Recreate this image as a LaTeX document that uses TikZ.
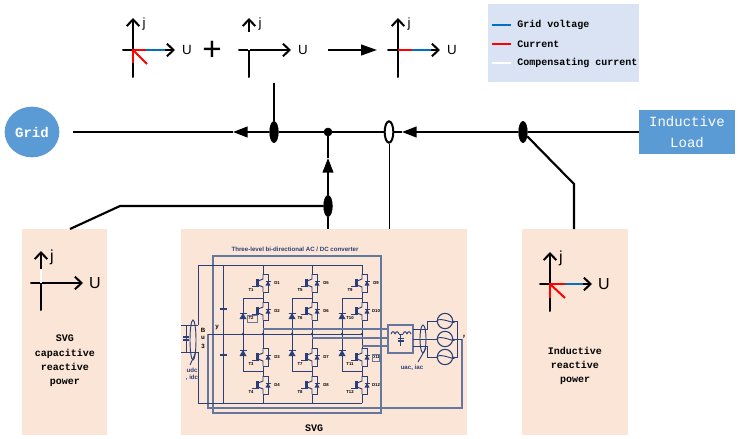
\documentclass[tikz,border=0pt]{standalone}
\usepackage{fontspec}
\setmainfont{Liberation Sans}
\newfontfamily\pixelfont{Liberation Mono}
\usepackage{xcolor}
\usepackage{tikz}
\usetikzlibrary{arrows.meta, positioning, calc, shapes.geometric}
\definecolor{gridblue}{HTML}{5B9BD5}
\definecolor{panelpeach}{HTML}{FBE5D6}
\definecolor{legendblue}{HTML}{DAE3F3}
\definecolor{voltblue}{HTML}{0070C0}
\definecolor{circnavy}{HTML}{2A3F78}
\definecolor{circgray}{HTML}{66779F}
\tikzset{
	busline/.style={draw=black, line width=1.6pt},
	busarr/.style={busline, -{Triangle[length=11pt, width=8pt]}},
	tapmark/.style={draw=black, fill=black, ellipse, inner sep=0pt, minimum width=6.5pt, minimum height=16pt},
	panelbox/.style={fill=panelpeach, draw=none, inner sep=0pt},
	sourcebox/.style={fill=gridblue, draw=none, text=white, align=center, inner sep=0pt, font=\pixelfont\fontsize{10.5}{16}\selectfont},
	axisline/.style={draw=black, line width=1.5pt, line cap=round},
	axisarr/.style={axisline, -{Straight Barb[length=5pt, width=9.5pt, line width=1.5pt]}},
	axistext/.style={inner sep=0pt, font=\fontsize{#1}{#1}\selectfont},
	axistext/.default=10,
	paneltext/.style={align=center, inner sep=0pt, font=\pixelfont\bfseries\fontsize{7.5}{10.8}\selectfont},
	legendtext/.style={anchor=west, inner sep=0pt, font=\pixelfont\bfseries\fontsize{7.5}{9}\selectfont},
	wirea/.style={draw=circnavy, line width=0.7pt},
	wireb/.style={draw=circgray, line width=1.1pt},
	tinytext/.style={inner sep=0pt, text=black, font=\bfseries\fontsize{3.2}{3.5}\selectfont},
	circtext/.style={inner sep=0pt, text=circnavy, font=\bfseries\fontsize{4.6}{5}\selectfont},
}
% axes of one phasor picture: name, x, y, size of the letters
\newcommand{\phasoraxes}[4]{
	\draw[axisarr] (#2-10,#3) -- (#2+42,#3);
	\draw[axisarr] (#2,#3+27) -- (#2,#3-32);
	\node[axistext=#4] (#1j) at (#2+11,#3-26) {j};
	\node[axistext=#4] (#1u) at (#2+54,#3) {U};
}
% one switch with its diode
\newcommand{\igbtcell}[4]{
	\begin{scope}[shift={(#1,#2)}]
		\draw[wirea] (0,-9) -- (0,-4) -- (-5,-2) (-5,2) -- (0,4) -- (0,9);
		\draw[wirea] (0,-9) -- (5,-9) -- (5,9) -- (0,9);
		\draw[wirea, line width=1pt] (-5,-4) -- (-5,4);
		\draw[wirea] (-6.5,-4) -- (-6.5,3) -- (-11,3);
		\fill[circnavy] (2.5,2.5) -- (7.5,2.5) -- (5,-2) -- cycle;
		\draw[wirea] (2.5,-2) -- (7.5,-2);
		\node[tinytext] (d#3) at (14,0) {#3};
		\node[tinytext] (t#3) at (-12,7) {#4};
	\end{scope}
}
\newcommand{\clampdiode}[2]{
	\fill[circnavy] (#1-3.5,#2+3) -- (#1+3.5,#2+3) -- (#1,#2-3) -- cycle;
	\draw[wirea] (#1-3.5,#2-3) -- (#1+3.5,#2-3);
}
\begin{document}
\begin{tikzpicture}[x=0.75pt, y=-0.75pt, >=Stealth]
	\useasboundingbox (0,0) rectangle (740,439);
	% panels first
	\fill[panelpeach] (22,229) rectangle (107,435);
	\fill[panelpeach] (181,229) rectangle (467,435);
	\fill[panelpeach] (522,229) rectangle (628,435);
	\fill[legendblue] (488,4) rectangle (639,82);
	% legend
	\draw[voltblue, line width=1.5pt] (492,25) -- (511,25);
	\draw[red, line width=1.5pt] (492,44) -- (511,44);
	\draw[white, line width=1.5pt] (492,63) -- (511,63);
	\node[legendtext] (legvolt) at (517,25) {Grid voltage};
	\node[legendtext] (legcurr) at (517,44) {Current};
	\node[legendtext] (legcomp) at (517,63) {Compensating current};
	% grid and load
	\node[sourcebox, ellipse, minimum width=41pt, minimum height=38pt, font=\pixelfont\bfseries\fontsize{10.5}{12}\selectfont] (grid) at (32,132) {Grid};
	\node[sourcebox, minimum width=72pt, minimum height=33pt] (load) at (687,132) {Inductive\\Load};
	% tap points on the bus
	\node[tapmark] (taptop) at (274,132) {};
	\node[draw=black, fill=black, circle, inner sep=0pt, minimum size=6pt] (busdot) at (328,132) {};
	\node[tapmark, fill=white, line width=1.5pt] (ctring) at (389,132) {};
	\node[tapmark] (tapload) at (523,132) {};
	\node[tapmark] (tapsvg) at (328,206) {};
	\coordinate (svgtop) at (328,229);
	\coordinate (arrbus) at (233,132);
	\coordinate (arrct) at (402,132);
	\coordinate (arrsvg) at (328,158);
	\coordinate (panelbend) at (120,206);
	\coordinate (panelend) at (70,229);
	\coordinate (loadbend) at (574,184);
	\coordinate (loadend) at (574,229);
	\coordinate (topend) at (274,83);
	\coordinate (ctend) at (389,229);
	% bus
	\draw[busline] (load) -- (tapload);
	\draw[busarr] (tapload) -- (arrct);
	\draw[busline] (arrct) -- (ctring);
	\draw[busline] (ctring) -- (busdot);
	\draw[busline] (busdot) -- (taptop);
	\draw[busarr] (taptop) -- (arrbus);
	\draw[busline, shorten >=9.75pt] (arrbus) -- (grid);
	\draw[busline] (svgtop) -- (tapsvg);
	\draw[busarr] (tapsvg) -- (arrsvg);
	\draw[busline] (arrsvg) -- (busdot);
	\draw[busline] (tapsvg) -- (panelbend) -- (panelend);
	\draw[busline] (tapload) -- (loadbend) -- (loadend);
	\draw[busline] (taptop) -- (topend);
	\draw[black, line width=0.6pt] (ctring) -- (ctend);
	% phasors
	\phasoraxes{pa}{133}{50}{10}
	\draw[voltblue, line width=1.5pt] (146,50) -- (165,50);
	\draw[red, line width=1.5pt] (133,63) -- (133,50) -- (146,50);
	\draw[red, line width=1.5pt] (133,50) -- (147,64);
	\node[axistext=25] (plus) at (212,51) {+};
	\phasoraxes{pb}{249}{50}{10}
	\draw[gray!60, line width=1.7pt] (249,32) -- (249,50);
	\draw[white, line width=1pt] (249,32) -- (249,50);
	\coordinate (sumfrom) at (328,50);
	\coordinate (sumto) at (377,50);
	\draw[busline, -{Triangle[length=12pt, width=8pt]}] (sumfrom) -- (sumto);
	\phasoraxes{pc}{398}{50}{10}
	\draw[red, line width=1.5pt] (398,50) -- (412,50);
	\draw[voltblue, line width=1.5pt] (412,50) -- (431,50);
	\phasoraxes{pd}{41}{283}{12}
	\draw[white, line width=1.5pt] (41,269) -- (41,283);
	\node[paneltext] (svgtext) at (65,361) {SVG\\capacitive\\reactive\\power};
	\phasoraxes{pe}{550}{284}{12}
	\draw[voltblue, line width=1.5pt] (565,284) -- (583,284);
	\draw[red, line width=1.5pt] (550,298) -- (550,284) -- (565,284);
	\draw[red, line width=1.5pt] (550,284) -- (565,298);
	\node[paneltext] (indtext) at (575,366) {Inductive\\reactive\\power};
	% converter
	\node[circtext] (convtext) at (295,249) {Three-level bi-directional AC / DC converter};
	\draw[wireb] (213,413) rectangle (381,256);
	\draw[wireb] (208,334) -- (208,408) -- (462,408) -- (462,339);
	\draw[wirea] (198,325) -- (198,265) -- (362,265);
	\draw[wirea] (198,352) -- (198,403) -- (362,403);
	\draw[wirea] (223,265) -- (223,403);
	\draw[circnavy, line width=1.6pt] (219.5,309) -- (226.5,309);
	\draw[circnavy, line width=1.6pt] (219.5,355) -- (226.5,355);
	\draw[wirea] (208,334) -- (362,334);
	\foreach \legx in {263,312,362}{
		\pgfmathsetmacro{\clampx}{\legx-20}
		\draw[wirea] (\legx,265) -- (\legx,274) (\legx,292) -- (\legx,302) (\legx,320) -- (\legx,348) (\legx,366) -- (\legx,376) (\legx,394) -- (\legx,403);
		\draw[wirea] (\legx,298) -- (\clampx,298) -- (\clampx,371) -- (\legx,371);
		\clampdiode{\clampx}{316}
		\clampdiode{\clampx}{353}
		\fill[circnavy] (\clampx,334) circle [radius=1.3];
		\fill[circnavy] (\legx,334) circle [radius=1.3];
	}
	\foreach \legx/\celly/\cellnum in {263/283/1,263/311/2,263/357/3,263/385/4,312/283/5,312/311/6,312/357/7,312/385/8,362/283/9,362/311/10,362/357/11,362/385/12}{
		\igbtcell{\legx}{\celly}{D\cellnum}{T\cellnum}
	}
	\draw[circgray, line width=0.6pt] (247,315) rectangle (257,322);
	\draw[circgray, line width=0.6pt] (372,354) rectangle (379,361);
	% phase wires and filter
	\draw[wireb] (263,329) -- (388,329);
	\draw[wireb] (312,338) -- (388,338);
	\draw[wireb] (362,346) -- (388,346);
	\draw[wireb, fill=panelpeach] (388,325) rectangle (413,353);
	\foreach \humpx in {391,395,403,407}{
		\draw[wirea] (\humpx,334) .. controls (\humpx+1,331) and (\humpx+3,331) .. (\humpx+4,334);
	}
	\draw[wirea] (399,334) -- (403,334) (400.5,334) -- (400.5,346);
	\draw[circnavy, line width=1.2pt] (397.5,338.5) -- (403.5,338.5) (397.5,341) -- (403.5,341);
	\draw[wirea] (413,329) -- (427,329) -- (427,321);
	\draw[wirea] (413,339) -- (437.5,339);
	\draw[wirea] (413,346) -- (427,346) -- (427,357);
	\foreach \srcname/\srcy in {srca/321,srcb/339,srcc/357}{
		\node[draw=circnavy, line width=0.8pt, circle, minimum size=11.5pt, inner sep=0pt] (\srcname) at (445,\srcy) {};
		\draw[wirea] (\srcname.west) .. controls ++(3,-5) and ++(5,5) .. (\srcname.east);
	}
	\draw[wirea] (427,321) -- (srca);
	\draw[wirea] (427,357) -- (srcc);
	\draw[wirea] (srca) -- (457,321) -- (457,357) -- (srcc);
	\draw[wirea] (srcb) -- (462,339);
	\draw[wirea] (423,339) ellipse [x radius=3, y radius=14];
	\draw[wirea] (426,348) -- (418,362);
	\node[circtext] (uactext) at (412,368) {uac, iac};
	\node[tinytext] (ytext) at (464,337) {y};
	% dc side
	\draw[wirea] (181,325) -- (198,325);
	\draw[wirea] (181,352) -- (198,352);
	\draw[wirea] (186,325) -- (186,352);
	\draw[circnavy, line width=1.2pt] (183,337) -- (189,337) (183,340) -- (189,340);
	\draw[wirea] (193,340) ellipse [x radius=3, y radius=20];
	\draw[wirea] (196,352) -- (190,365);
	\node[circtext] (udctext) at (192,370) {udc};
	\node[circtext] (idctext) at (192,378) {, idc};
	\node[tinytext, font=\bfseries\fontsize{4.6}{5}\selectfont] (btext) at (203,330) {B};
	\node[tinytext, font=\bfseries\fontsize{4.6}{5}\selectfont] (utext) at (203,338) {u};
	\node[tinytext, font=\bfseries\fontsize{4.6}{5}\selectfont] (ctext) at (203,346) {3};
	\node[tinytext, font=\bfseries\fontsize{4.6}{5}\selectfont] (ntext) at (217,328) {y};
	\node[inner sep=0pt, font=\pixelfont\bfseries\fontsize{7.5}{9}\selectfont] (svglabel) at (314,428) {SVG};
\end{tikzpicture}
\end{document}
